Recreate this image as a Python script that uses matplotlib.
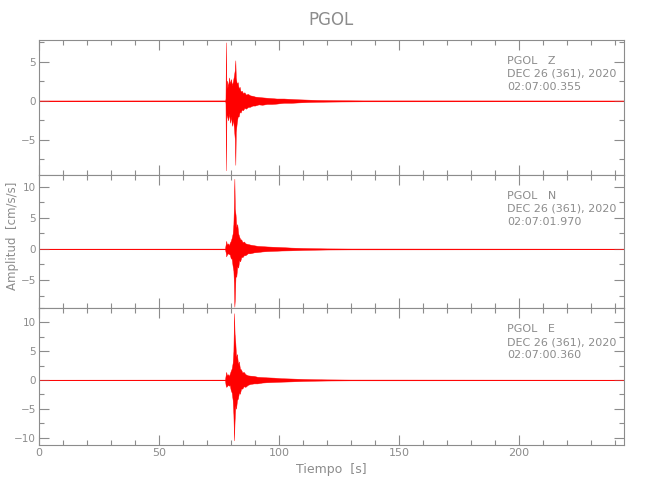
import matplotlib
matplotlib.use("Agg")
import matplotlib.pyplot as plt
from matplotlib.ticker import MultipleLocator

# ---- data (envelopes) ----
T_END = 243.75

z_t  = [0, 77.6, 77.7, 77.9, 78.1, 78.4, 78.8, 79.2, 79.6, 80.0, 80.4, 80.8, 81.2, 81.6, 81.8, 82.0,
        82.4, 82.8, 83.2, 83.6, 84.0, 84.5, 85.0, 85.6, 86.2, 87, 88, 89, 90, 91.5, 93, 95, 97, 99,
        102, 105, 108, 112, 116, 120, 126, 135, T_END]
z_hi = [0.05, 0.06, 0.3, 7.5, 1.5, 2.6, 1.8, 3.0, 2.2, 2.8, 2.0, 2.5, 3.2, 4.0, 5.2, 3.0,
        2.2, 2.4, 1.6, 1.8, 1.2, 1.3, 1.0, 1.1, 0.8, 0.9, 0.7, 0.65, 0.55, 0.5, 0.45, 0.4, 0.35, 0.3,
        0.3, 0.25, 0.2, 0.16, 0.12, 0.1, 0.08, 0.06, 0.05]
z_lo = [-0.05, -0.06, -0.3, -8.9, -1.8, -2.0, -2.5, -1.6, -2.8, -2.0, -3.2, -2.4, -3.4, -5.0, -8.2, -4.0,
        -2.8, -2.0, -2.0, -1.4, -1.5, -1.1, -1.2, -0.9, -1.0, -0.8, -0.75, -0.6, -0.6, -0.45, -0.5, -0.4, -0.4, -0.35,
        -0.25, -0.25, -0.2, -0.15, -0.12, -0.1, -0.08, -0.06, -0.05]

n_t  = [0, 77.5, 77.8, 78.0, 78.3, 78.7, 79.1, 79.5, 79.9, 80.3, 80.7, 81.0, 81.2, 81.4, 81.6, 81.9,
        82.2, 82.6, 83.0, 83.4, 83.8, 84.3, 84.8, 85.4, 86, 87, 88, 89.5, 91, 93, 95, 98, 101, 105,
        110, 115, 120, 130, T_END]
n_hi = [0.05, 0.06, 0.8, 1.3, 0.7, 0.9, 0.6, 1.0, 1.3, 1.8, 2.5, 4.0, 7.0, 11.3, 6.5, 5.5,
        3.5, 4.0, 2.5, 2.0, 1.6, 1.5, 1.1, 1.2, 0.9, 0.8, 0.7, 0.6, 0.5, 0.45, 0.4, 0.35, 0.3, 0.22,
        0.16, 0.12, 0.09, 0.07, 0.05]
n_lo = [-0.05, -0.06, -0.6, -1.2, -0.9, -0.7, -0.8, -0.9, -1.5, -1.6, -2.8, -3.5, -5.5, -9.3, -8.0, -4.0,
        -4.5, -2.8, -3.0, -1.8, -2.0, -1.3, -1.3, -1.0, -1.0, -0.7, -0.7, -0.55, -0.5, -0.4, -0.35, -0.3, -0.25, -0.22,
        -0.16, -0.12, -0.09, -0.07, -0.05]

e_t  = [0, 77.5, 77.8, 78.0, 78.3, 78.7, 79.1, 79.5, 79.9, 80.3, 80.7, 81.0, 81.25, 81.5, 81.8, 82.1,
        82.5, 82.9, 83.3, 83.7, 84.2, 84.7, 85.3, 86, 87, 88, 89.5, 91, 93, 95, 98, 101, 105,
        110, 115, 120, 130, T_END]
e_hi = [0.05, 0.06, 0.9, 1.4, 0.8, 1.0, 0.7, 1.1, 1.6, 2.0, 3.0, 5.0, 11.6, 8.0, 6.5, 4.0,
        4.5, 2.8, 3.2, 2.0, 1.8, 1.3, 1.4, 1.0, 0.8, 0.75, 0.7, 0.55, 0.5, 0.45, 0.4, 0.3, 0.25,
        0.18, 0.13, 0.1, 0.07, 0.05]
e_lo = [-0.05, -0.06, -1.0, -1.2, -1.1, -0.8, -1.0, -0.9, -1.8, -2.2, -3.5, -6.0, -10.5, -7.0, -4.5, -5.0,
        -3.5, -3.2, -2.2, -2.4, -1.5, -1.5, -1.1, -1.2, -0.85, -0.7, -0.6, -0.6, -0.45, -0.4, -0.35, -0.3, -0.25,
        -0.18, -0.13, -0.1, -0.07, -0.05]

channels = ["Z", "N", "E"]
times = ["02:07:00.355", "02:07:01.970", "02:07:00.360"]
date_label = "DEC 26 (361), 2020"
station = "PGOL"
ylims = [(-9.5, 7.8), (-9.5, 11.9), (-11.3, 12.5)]
xticks = [0, 50, 100, 150, 200]

traces = [(z_t, z_hi, z_lo), (n_t, n_hi, n_lo), (e_t, e_hi, e_lo)]

GRAY = "#8c8c8c"
plt.rcParams["font.family"] = ["DejaVu Sans"]

fig = plt.figure(figsize=(6.5, 5.0), dpi=100)
gs = fig.add_gridspec(3, 1, left=39/650, right=624/650, top=1-40/500, bottom=1-445/500,
                      hspace=0, height_ratios=[135, 133, 137])
axes = [fig.add_subplot(gs[i]) for i in range(3)]

for i, ax in enumerate(axes):
    t, hi, lo = traces[i]
    ax.fill_between(t, lo, hi, color="red", lw=0.3, edgecolor="red")
    ax.plot([0, T_END], [0, 0], color="red", lw=0.5)
    ax.set_xlim(0, T_END)
    ax.set_ylim(*ylims[i])
    ax.xaxis.set_major_locator(MultipleLocator(50))
    ax.xaxis.set_minor_locator(MultipleLocator(10))
    ax.yaxis.set_major_locator(MultipleLocator(5))
    ax.yaxis.set_minor_locator(MultipleLocator(2.5))
    ax.tick_params(which="both", direction="in", top=True, right=True, color=GRAY,
                   labelcolor=GRAY, labelsize=7.5, width=0.8, pad=2)
    ax.tick_params(which="major", length=7)
    ax.tick_params(which="minor", length=3.5)
    for s in ax.spines.values():
        s.set_color(GRAY)
        s.set_linewidth(0.8)
    if i < 2:
        ax.tick_params(labelbottom=False)
    ax.text(0.8, 0.88, f"{station}   {channels[i]}\n{date_label}\n{times[i]}",
            transform=ax.transAxes, ha="left", va="top", color=GRAY, fontsize=8,
            linespacing=1.35)

axes[2].tick_params(axis="x", labelsize=8)
axes[2].set_xticks(xticks)
axes[2].set_xlabel("Tiempo  [s]", color=GRAY, fontsize=9)
fig.text(13/650, 1-236/500, "Amplitud  [cm/s/s]", rotation=90, ha="center", va="center",
         color=GRAY, fontsize=8.5)
fig.text((39+624)/2/650, 1-20/500, station, ha="center", va="center", color=GRAY, fontsize=12)

fig.savefig("out.png", dpi=100)
